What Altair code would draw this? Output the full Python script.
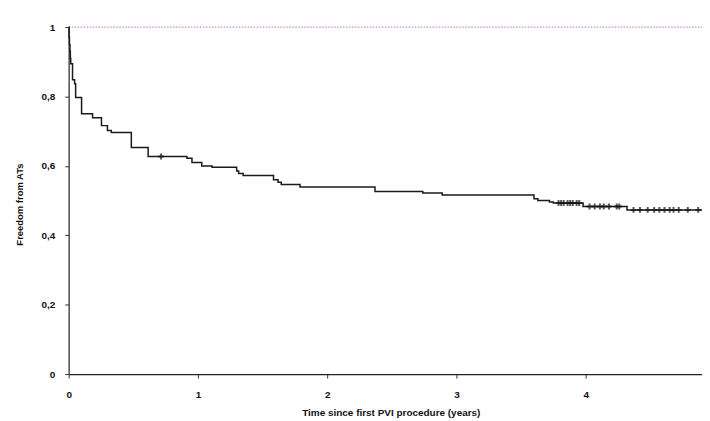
import bisect
import altair as alt
import pandas as pd

# Kaplan-Meier step points (time in years, freedom from ATs)
times = [0, 0.003, 0.006, 0.01, 0.013, 0.016, 0.03, 0.046, 0.054, 0.10, 0.185,
         0.254, 0.30, 0.33, 0.485, 0.615, 0.915, 0.954, 1.03, 1.11, 1.30, 1.315,
         1.35, 1.585, 1.62, 1.645, 1.79, 2.37, 2.74, 2.89, 3.60, 3.63, 3.72,
         3.75, 3.98, 4.32, 4.9]
surv = [1.0, 0.97, 0.95, 0.93, 0.91, 0.894, 0.848, 0.837, 0.797, 0.75, 0.739,
        0.716, 0.702, 0.696, 0.653, 0.627, 0.622, 0.61, 0.60, 0.596, 0.585, 0.578,
        0.572, 0.56, 0.553, 0.546, 0.539, 0.526, 0.522, 0.516, 0.505, 0.50, 0.496,
        0.493, 0.483, 0.473, 0.473]

# censored observations (+ marks)
censor_times = [0.715, 3.79, 3.81, 3.83, 3.86, 3.88, 3.9, 3.93, 3.95,
                4.03, 4.07, 4.11, 4.14, 4.18, 4.24, 4.26,
                4.37, 4.42, 4.48, 4.53, 4.57, 4.61, 4.65, 4.68, 4.72, 4.79, 4.87]

x_ticks = [0, 1, 2, 3, 4]
y_ticks = [0, 0.2, 0.4, 0.6, 0.8, 1]

curve = pd.DataFrame({"t": times, "s": surv})
censor_s = [surv[bisect.bisect_right(times, t) - 1] for t in censor_times]
cens = pd.DataFrame({"t": censor_times, "s": censor_s})
top = pd.DataFrame({"s": [1.0]})

FONT = "Liberation Sans"

xscale = alt.Scale(domain=[0, 4.9], nice=False, zero=True)
yscale = alt.Scale(domain=[0, 1], nice=False)

x_axis = alt.Axis(values=x_ticks, format="d", labelFlush=False,
                  title="Time since first PVI procedure (years)",
                  labelFont=FONT, labelFontSize=10, labelFontWeight="bold",
                  labelColor="#111", tickSize=4, tickColor="#333", labelPadding=12,
                  domainColor="#222", domainWidth=1.2, grid=False,
                  titleFont=FONT, titleFontSize=10, titleFontWeight="bold",
                  titleColor="#111", titleX=324, titleY=39, titleBaseline="middle")
y_axis = alt.Axis(values=y_ticks, labelFlush=False, title="Freedom from ATs",
                  labelExpr="replace(format(datum.value, '~g'), '.', ',')",
                  labelFont=FONT, labelFontSize=10, labelFontWeight="bold",
                  labelColor="#111", tickSize=4, tickColor="#333", labelPadding=10,
                  domainColor="#222", domainWidth=1.2, grid=False,
                  titleFont=FONT, titleFontSize=9.5, titleFontWeight="bold",
                  titleColor="#111", titleX=-49, titleY=178, titleBaseline="middle",
                  titleAngle=-90, titleAlign="center")

top_line = alt.Chart(top).mark_rule(color="#c98ad6", strokeDash=[1.5, 1.5],
                                    strokeWidth=1.2).encode(
    y=alt.Y("s:Q", scale=yscale), x=alt.value(0), x2=alt.value(637))

line = alt.Chart(curve).mark_line(interpolate="step-after", color="#1a1a1a",
                                  strokeWidth=1.5).encode(
    x=alt.X("t:Q", scale=xscale, axis=x_axis),
    y=alt.Y("s:Q", scale=yscale, axis=y_axis),
)

marks = alt.Chart(cens).mark_point(shape="M-1,0L1,0M0,-1L0,1", size=34,
                                   color="#111", strokeWidth=2, filled=False).encode(
    x=alt.X("t:Q", scale=xscale),
    y=alt.Y("s:Q", scale=yscale),
)

chart = (top_line + line + marks).properties(
    width=637, height=349,
    autosize=alt.AutoSizeParams(type="none"),
    padding={"left": 61, "top": 18, "right": 0, "bottom": 46},
    background="white",
).configure_view(stroke=None)

chart.save("out.html", embed_options={"renderer": "svg", "actions": False})
